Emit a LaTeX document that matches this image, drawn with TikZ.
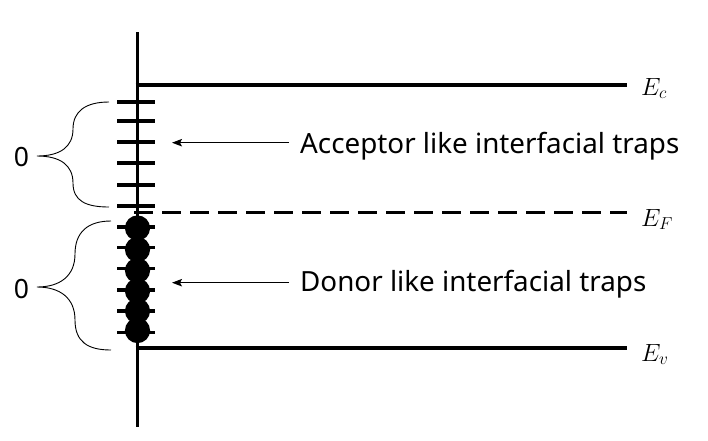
\documentclass[tikz,border=0pt]{standalone}
\usepackage{fontspec}
\setmainfont{Noto Sans}
\usetikzlibrary{arrows.meta}
\begin{document}
\begin{tikzpicture}[x=1pt,y=-1pt,
  band/.style={line width=3.6pt},
  trapmark/.style={line width=3.2pt},
  brace/.style={line width=0.9pt},
  arr/.style={line width=1pt,-{Stealth[length=10pt,width=7.5pt,inset=2pt]}},
  lbl/.style={font=\fontsize{27.8}{32}\selectfont,inner sep=0pt,anchor=base west},
  elbl/.style={font=\fontsize{26}{30}\selectfont,inner sep=0pt,anchor=base west},
  zlbl/.style={font=\fontsize{26.5}{30}\selectfont,inner sep=0pt}]
\useasboundingbox (0,0) rectangle (708,440);
% axis
\coordinate (axTop) at (137.5,32);
\coordinate (axBot) at (137.5,427);
\draw[band] (axTop) -- (axBot);
% band edges
\node[elbl] (Ec) at (641,95) {$E_c$};
\node[elbl] (EF) at (641,226) {$E_F$};
\node[elbl] (Ev) at (641,361) {$E_v$};
\coordinate (EcL) at (135.5,85);
\coordinate (EcR) at (627,85);
\coordinate (EFL) at (134,212.5);
\coordinate (EFR) at (627,212.5);
\coordinate (EvL) at (135.5,348);
\coordinate (EvR) at (627,348);
\draw[band] (EcL) -- (EcR);
\draw[band,dash pattern=on 19pt off 9pt] (EFL) -- (EFR);
\draw[band] (EvL) -- (EvR);
% acceptor traps
\foreach \y in {102,121,142,163,185,206}
  \draw[trapmark] (117,\y) -- (155,\y);
% donor traps
\foreach \y in {227,247.5,268.5,290,311,332.5}
  \draw[trapmark] (117,\y) -- (155,\y);
\foreach \y in {228,249.5,270.5,291,311,330.5}
  \fill (137.5,\y) circle (12.6pt);
% braces
\draw[brace] (109,102) .. controls (86,102) and (73,111) .. (73,129)
  .. controls (73,147) and (60,156) .. (37,156)
  .. controls (60,156) and (73,165) .. (73,183)
  .. controls (73,201) and (86,207) .. (109,207);
\draw[brace] (111,221) .. controls (88,221) and (75,232) .. (75,254)
  .. controls (75,276) and (60,287) .. (37,287)
  .. controls (60,287) and (75,298) .. (75,320)
  .. controls (75,342) and (88,350) .. (111,350);
\node[zlbl] (z1) at (21.5,157) {0};
\node[zlbl] (z2) at (21.5,289) {0};
% labels and arrows
\node[lbl] (acc) at (300,153.3) {Acceptor like interfacial traps};
\node[lbl] (don) at (300,291.7) {Donor like interfacial traps};
\coordinate (accT) at (289,142.7);
\coordinate (accH) at (172,142.7);
\coordinate (donT) at (289,282.7);
\coordinate (donH) at (172,282.7);
\draw[arr] (accT) -- (accH);
\draw[arr] (donT) -- (donH);
\end{tikzpicture}
\end{document}
